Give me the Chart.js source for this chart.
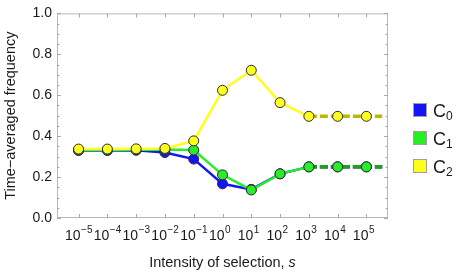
<!DOCTYPE html>
<html>
<head>
<meta charset="utf-8">
<script src="https://cdn.jsdelivr.net/npm/chart.js@4"></script>
<style>
    html, body { margin: 0; padding: 0; background: #fff; }
    #wrap { width: 459px; height: 272px; }
</style>
</head>
<body>
<div id="wrap"><canvas id="freq-chart"></canvas></div>
<script>
// data (x = log10 of s)
const exponents = [-5, -4, -3, -2, -1, 0, 1, 2, 3, 4, 5];
const c0Values = [0.330, 0.330, 0.331, 0.320, 0.288, 0.167, 0.140, 0.216, 0.250, 0.250, 0.250];
const c1Values = [0.332, 0.332, 0.333, 0.335, 0.332, 0.211, 0.137, 0.216, 0.250, 0.250, 0.250];
const c2Values = [0.337, 0.337, 0.338, 0.340, 0.377, 0.624, 0.722, 0.564, 0.497, 0.497, 0.497];
const seriesSubs = ['0', '1', '2'];
const yTickValues = [0, 0.2, 0.4, 0.6, 0.8, 1.0];
const tailFrom = 3;      // asymptote starts here
const tailTo = 5.55;     // dashed asymptote runs to here

const FONT = '"Liberation Sans", Arial, sans-serif';
const colors = ['#1414f5', '#28ee28', '#ffff1e'];
const tailColors = ['#0a0a90', '#1aa21a', '#b9b900'];

function points(vals) {
    return exponents.map((e, i) => ({ x: e, y: vals[i] }));
}

function tail(vals) {
    const last = vals[vals.length - 1];
    return [{ x: tailFrom, y: last }, { x: tailTo, y: last }];
}

function mainSet(vals, idx, order) {
    return {
        data: points(vals),
        borderColor: colors[idx],
        backgroundColor: colors[idx],
        pointBackgroundColor: colors[idx],
        pointBorderColor: '#2a2a3a',
        pointBorderWidth: 1,
        pointRadius: 5,
        borderWidth: 2.5,
        order: order,
        segment: {
            borderColor: ctx => ctx.p0.parsed.x >= tailFrom ? 'rgba(0,0,0,0)' : undefined
        }
    };
}

function tailSet(vals, idx, order) {
    return {
        data: tail(vals),
        borderColor: tailColors[idx],
        borderWidth: 3.5,
        borderDash: [8, 3],
        pointRadius: 0,
        order: order
    };
}

// frame, inner tick marks, x labels, x title and legend
const decorPlugin = {
    id: 'decor',
    beforeDatasetsDraw(chart) {
        const { ctx, chartArea: a, scales: { x, y } } = chart;
        ctx.save();
        ctx.strokeStyle = '#b8b8b8';
        ctx.lineWidth = 1;
        ctx.strokeRect(a.left + 0.5, a.top + 0.5, a.width - 1, a.height - 1);

        ctx.strokeStyle = '#a8a8a8';
        ctx.beginPath();
        for (let k = 0; k <= 20; k++) {
            const py = Math.round(y.getPixelForValue(k * 0.05)) + 0.5;
            const len = k % 4 === 0 ? 4 : 2.5;
            ctx.moveTo(a.left, py); ctx.lineTo(a.left + len, py);
            ctx.moveTo(a.right, py); ctx.lineTo(a.right - len, py);
        }
        exponents.forEach(e => {
            const px = Math.round(x.getPixelForValue(e)) + 0.5;
            ctx.moveTo(px, a.bottom); ctx.lineTo(px, a.bottom - 4);
            ctx.moveTo(px, a.top); ctx.lineTo(px, a.top + 4);
        });
        ctx.stroke();
        ctx.restore();
    },
    afterDraw(chart) {
        const { ctx, chartArea: a, scales: { x } } = chart;
        ctx.save();
        ctx.fillStyle = '#1a1a1a';
        ctx.textBaseline = 'alphabetic';

        // x tick labels 10^n
        exponents.forEach(e => {
            const px = x.getPixelForValue(e) + 2;
            ctx.font = '14px ' + FONT;
            ctx.textAlign = 'right';
            ctx.fillText('10', px, 240);
            ctx.font = '10px ' + FONT;
            ctx.textAlign = 'left';
            ctx.fillText(e < 0 ? '\u2212' + (-e) : String(e), px + 0.5, 233);
        });

        // x title with italic s
        const t1 = 'Intensity of selection, ';
        ctx.font = 'italic 14.5px ' + FONT;
        const w2 = ctx.measureText('s').width;
        ctx.font = '14.5px ' + FONT;
        const w1 = ctx.measureText(t1).width;
        const sx = (a.left + a.right) / 2 - (w1 + w2) / 2;
        ctx.textAlign = 'left';
        ctx.fillText(t1, sx, 266.5);
        ctx.font = 'italic 14.5px ' + FONT;
        ctx.fillText('s', sx + w1, 266.5);

        // legend
        seriesSubs.forEach((sub, i) => {
            const cy = 110 + i * 28;
            ctx.fillStyle = colors[i];
            ctx.fillRect(413, cy - 7, 14, 14);
            ctx.strokeStyle = '#a0a0a0';
            ctx.lineWidth = 1;
            ctx.strokeRect(413.5, cy - 6.5, 13, 13);
            ctx.fillStyle = '#1a1a1a';
            ctx.font = '18px ' + FONT;
            ctx.fillText('C', 433, cy + 6.5);
            const cw = ctx.measureText('C').width;
            ctx.font = '12px ' + FONT;
            ctx.fillText(sub, 433 + cw, cy + 10);
        });
        ctx.restore();
    }
};

new Chart(document.getElementById('freq-chart'), {
    type: 'line',
    data: {
        datasets: [
            mainSet(c2Values, 2, 0),
            mainSet(c1Values, 1, 1),
            mainSet(c0Values, 0, 2),
            tailSet(c2Values, 2, 3),
            tailSet(c1Values, 1, 4),
            tailSet(c0Values, 0, 5)
        ]
    },
    options: {
        responsive: true,
        maintainAspectRatio: false,
        animation: false,
        layout: { padding: { left: 0, right: 71, top: 13, bottom: 0 } },
        plugins: {
            legend: { display: false },
            tooltip: { enabled: false }
        },
        scales: {
            x: {
                type: 'linear',
                min: -5.75,
                max: 5.75,
                grid: { display: false },
                border: { display: false },
                ticks: { display: false },
                afterFit: scale => { scale.height = 54; }
            },
            y: {
                type: 'linear',
                min: 0,
                max: 1,
                grid: { display: false, drawTicks: false },
                border: { display: false },
                afterBuildTicks: scale => {
                    scale.ticks = yTickValues.map(v => ({ value: v }));
                },
                ticks: {
                    padding: 5,
                    color: '#1a1a1a',
                    font: { family: FONT, size: 14 },
                    callback: v => Number(v).toFixed(1)
                },
                title: {
                    display: true,
                    text: 'Time\u2212averaged frequency',
                    color: '#1a1a1a',
                    font: { family: FONT, size: 14.5 },
                    padding: { top: 2, bottom: 0 }
                },
                afterFit: scale => { scale.width = 57; }
            }
        }
    },
    plugins: [decorPlugin]
});
</script>
</body>
</html>
